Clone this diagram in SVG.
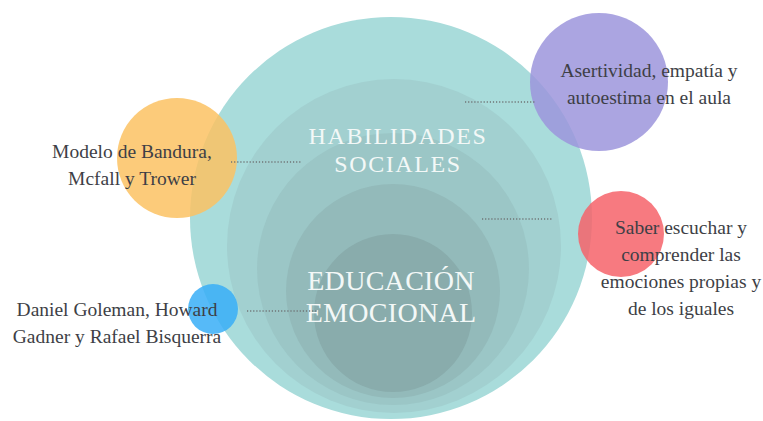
<svg xmlns="http://www.w3.org/2000/svg" width="763" height="421" viewBox="0 0 763 421">
<style>
.lbl{font-family:"Liberation Serif","Times New Roman",serif;font-size:19.5px;fill:#3e3f46;text-anchor:middle}
.ttl{font-family:"Liberation Serif","Times New Roman",serif;fill:#f3f8f7;text-anchor:middle}
.dot{stroke:#6f7475;stroke-width:1.3;stroke-dasharray:1.2 1.9;fill:none}
.sat{opacity:0.85}
</style>
<rect width="763" height="421" fill="#ffffff"/>
<g id="center-rings">
<circle cx="391" cy="218" r="201" fill="#a9dcdb"/>
<circle cx="394" cy="246" r="167" fill="#a2d0d0"/>
<circle cx="393" cy="269" r="136" fill="#9bc6c6"/>
<circle cx="393" cy="291" r="107" fill="#93baba"/>
<circle cx="393" cy="313" r="79" fill="#89acac"/>
</g>
<g id="habilidades-sociales">
<text class="ttl" x="398" y="144" font-size="24" letter-spacing="1.6">HABILIDADES</text>
<text class="ttl" x="398" y="172" font-size="24" letter-spacing="1.6">SOCIALES</text>
</g>
<g id="educacion-emocional">
<text class="ttl" x="391" y="290" font-size="28" letter-spacing="0.3">EDUCACIÓN</text>
<text class="ttl" x="391" y="322" font-size="28" letter-spacing="0.3">EMOCIONAL</text>
</g>
<g id="node-bandura">
<circle class="sat" cx="177" cy="158" r="60" fill="#fcc263"/>
<text class="lbl" x="132" y="158">Modelo de Bandura,</text>
<text class="lbl" x="132" y="185">Mcfall y Trower</text>
</g>
<g id="node-goleman">
<circle class="sat" cx="213" cy="309" r="25" fill="#38aef7"/>
<text class="lbl" x="117" y="316">Daniel Goleman, Howard</text>
<text class="lbl" x="117" y="343">Gadner y Rafael Bisquerra</text>
</g>
<g id="node-asertividad">
<circle class="sat" cx="599" cy="82" r="69" fill="#9c95dc"/>
<text class="lbl" x="649" y="77">Asertividad, empatía y</text>
<text class="lbl" x="649" y="104">autoestima en el aula</text>
</g>
<g id="node-escuchar">
<circle class="sat" cx="621" cy="234" r="43" fill="#f6636a"/>
<text class="lbl" x="681" y="234">Saber escuchar y</text>
<text class="lbl" x="681" y="261">comprender las</text>
<text class="lbl" x="681" y="288">emociones propias y</text>
<text class="lbl" x="681" y="315">de los iguales</text>
</g>
<g id="connectors">
<line class="dot" x1="231" y1="162" x2="302" y2="162"/>
<line class="dot" x1="247" y1="311" x2="318" y2="311"/>
<line class="dot" x1="465" y1="102" x2="535" y2="102"/>
<line class="dot" x1="482" y1="219" x2="553" y2="219"/>
</g>
</svg>
